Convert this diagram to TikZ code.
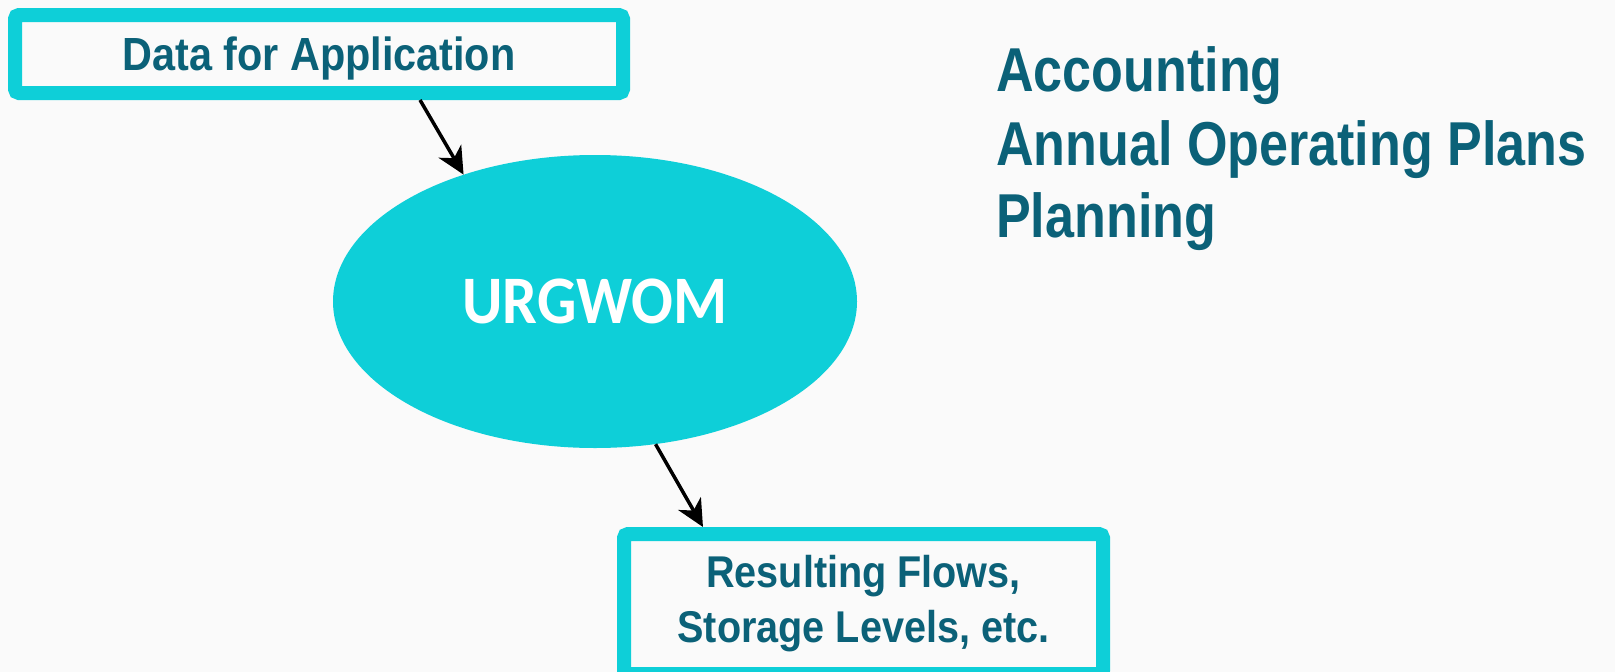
\documentclass[tikz,border=0pt]{standalone}
\usepackage{fontspec}
\usetikzlibrary{shapes.geometric,arrows.meta,calc}
\newfontfamily\labfont{Liberation Sans}[FakeStretch=0.89]
\newfontfamily\listfont{Liberation Sans}[FakeStretch=0.84]
\newfontfamily\ovalfont{Carlito}[FakeStretch=0.91]
\definecolor{cyanbox}{HTML}{0ECFD8}
\definecolor{tealtext}{HTML}{0B6178}
\definecolor{bgcol}{HTML}{FAFAFA}
\tikzset{
  boxnode/.style={draw=cyanbox, line width=14pt, rounded corners=4pt, fill=bgcol,
    inner sep=0pt, text=tealtext, font=\labfont\bfseries},
  ovalnode/.style={ellipse, fill=cyanbox, inner sep=0pt, text=white,
    font=\ovalfont\bfseries\fontsize{68}{72}\selectfont},
  listline/.style={anchor=base west, inner sep=0pt, text=tealtext,
    font=\listfont\bfseries\fontsize{62}{72}\selectfont},
  arr/.style={draw=black, line width=3.5pt, -{Stealth[length=27pt,width=26pt,inset=8pt]}}
}
\begin{document}
\begin{tikzpicture}[x=1pt,y=-1pt]
\clip (0,0) rectangle (1615,672);
\fill[bgcol] (0,0) rectangle (1615,672);
\node[boxnode, minimum width=608pt, minimum height=78pt, text height=33pt, text depth=0pt,
  font=\labfont\bfseries\fontsize{46.5}{55}\selectfont] (top) at (319,54) {Data for Application};
\node[ovalnode, minimum width=524pt, minimum height=293pt] (ell) at (595,301.5) {URGWOM};
\node[boxnode, anchor=north, minimum width=479pt, minimum height=140pt, align=center,
  font=\labfont\bfseries\fontsize{44.5}{55}\selectfont] (bot) at (863.5,527)
  {Resulting Flows,\\Storage Levels, etc.};
\node[listline] (l1) at (996,91) {Accounting};
\node[listline] (l2) at (996,165) {Annual Operating Plans};
\node[listline] (l3) at (996,237) {Planning};
\draw[arr] ($(top.south west)!0.6624!(top.south east)$) -- (ell.136);
\draw[arr] (ell.-67) -- ($(bot.north west)!0.1744!(bot.north east)$);
\end{tikzpicture}
\end{document}
